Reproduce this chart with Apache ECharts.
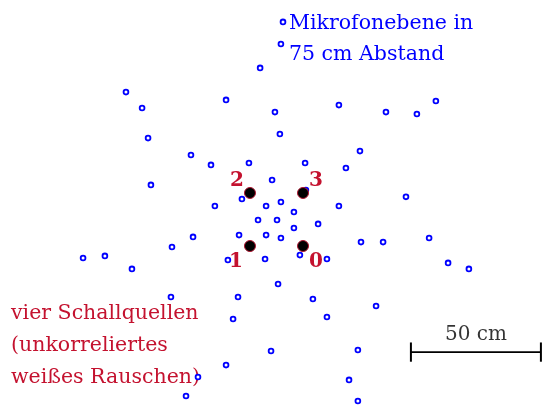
<!DOCTYPE html>
<html>
<head>
<meta charset="utf-8">
<script src="https://cdn.jsdelivr.net/npm/echarts@6/dist/echarts.min.js"></script>
<style>
  html, body { margin: 0; padding: 0; background: #fff; }
  #chart { width: 542px; height: 405px; }
</style>
</head>
<body>
<div id="chart"></div>
<script>
// Microphone positions in the array plane (cm), x to the right, y upward
const micX = [2.5, 1.7, -6.3, -57.9, -51.7, -19.4, -49.4, -0.6, 24.0, 42.1, 54.0, 61.3,
  1.3, -32.9, -25.2, -10.6, -48.3, -13.3, -23.7, -7.1, -32.1, -14.4, -40.2, -66.0,
  -74.4, -55.6, -18.7, 32.1, 11.0, 26.7, -1.7, 11.3, 1.7, -4.0, 6.7, 24.0,
  49.8, 0.2, 6.7, 16.0, -4.0, 1.7, 32.5, 41.0, 58.7, 9.0, 19.4, -4.4,
  66.0, 74.0, -40.6, -14.8, -16.7, -19.4, -30.2, -34.8, 0.6, 14.0, 38.3, 19.4,
  -2.1, 31.3, 27.9, 31.3];
const micY = [76.0, 67.5, 58.3, 49.0, 42.9, 46.0, 31.3, 41.3, 44.0, 41.3, 40.6, 45.6,
  32.9, 24.8, 21.0, 21.7, 13.3, 7.9, 5.2, -0.2, -6.7, -6.0, -10.6, -14.0,
  -14.8, -19.0, -15.6, 26.3, 21.7, 19.8, 15.2, 11.3, 6.7, 5.2, 2.9, 5.2,
  8.7, -0.2, -3.3, -1.7, -6.0, -7.1, -8.7, -8.7, -7.1, -13.7, -15.2, -15.2,
  -16.7, -19.0, -29.8, -29.8, -38.3, -56.0, -60.6, -67.9, -24.8, -30.6, -33.3, -37.5,
  -50.6, -50.2, -61.7, -69.8];

// Four loudspeaker sources (cm) and their indices
const srcX = [10.2, -10.2, -10.2, 10.2];
const srcY = [-10.2, -10.2, 10.2, 10.2];
const srcNames = ['0', '1', '2', '3'];

// Scale bar: 50 cm segment
const barStart = 51.7;
const barLength = 50;
const barY = -51.0;
const barLabel = '50 cm';

const micLabel = ['Mikrofonebene in', '75 cm Abstand'];
const srcLabel = ['vier Schallquellen', '(unkorreliertes', 'weißes Rauschen)'];

const RED = '#c4122f';
const BLUE = '#0000ff';
const SERIF = '"DejaVu Serif", "Liberation Serif", serif';

const chart = echarts.init(document.getElementById('chart'), null, { renderer: 'canvas' });

const micData = micX.map((x, i) => [x, micY[i]]);
const labelPos = [[13, 16], [-14, 16], [-13, -12], [13, -12]];
const srcData = srcX.map((x, i) => ({
  value: [x, srcY[i]],
  label: { offset: labelPos[i] }
}));
const barEnd = barStart + barLength;
const tick = 3.7;

chart.setOption({
  animation: false,
  backgroundColor: '#fff',
  grid: { left: 0, right: 0, top: 0, bottom: 0 },
  xAxis: { type: 'value', min: -106.35, max: 102.12, show: false },
  yAxis: { type: 'value', min: -71.35, max: 84.42, show: false },
  series: [
    {
      type: 'scatter',
      data: micData,
      symbol: 'circle',
      symbolSize: 4.8,
      itemStyle: { color: '#fff', borderColor: BLUE, borderWidth: 1.8, opacity: 1 },
      z: 2
    },
    {
      type: 'scatter',
      data: srcData,
      symbol: 'circle',
      symbolSize: 11,
      itemStyle: { color: '#000', borderColor: '#b01530', borderWidth: 1, opacity: 1 },
      label: {
        show: true,
        position: 'inside',
        formatter: (p) => srcNames[p.dataIndex],
        color: RED,
        fontFamily: SERIF,
        fontWeight: 'bold',
        fontSize: 20
      },
      z: 3
    },
    {
      type: 'line',
      data: [[barStart, barY], [barEnd, barY]],
      symbol: 'none',
      lineStyle: { color: '#000', width: 1.8 },
      z: 1
    },
    {
      type: 'line',
      data: [[barStart, barY - tick], [barStart, barY + tick]],
      symbol: 'none',
      lineStyle: { color: '#000', width: 2 }
    },
    {
      type: 'line',
      data: [[barEnd, barY - tick], [barEnd, barY + tick]],
      symbol: 'none',
      lineStyle: { color: '#000', width: 2 }
    },
    {
      type: 'scatter',
      data: [[barStart + barLength / 2, barY]],
      symbolSize: 0,
      label: {
        show: true,
        position: 'top',
        distance: 7,
        formatter: barLabel,
        color: '#000',
        fontFamily: SERIF,
        fontSize: 20
      }
    }
  ],
  graphic: [
    {
      type: 'text',
      left: 289,
      top: 8,
      style: {
        text: micLabel.join('\n'),
        fill: BLUE,
        font: '20.5px ' + SERIF,
        lineHeight: 31
      }
    },
    {
      type: 'text',
      left: 11,
      top: 298,
      style: {
        text: srcLabel.join('\n'),
        fill: RED,
        font: '20.5px ' + SERIF,
        lineHeight: 32
      }
    }
  ]
});
</script>
</body>
</html>
